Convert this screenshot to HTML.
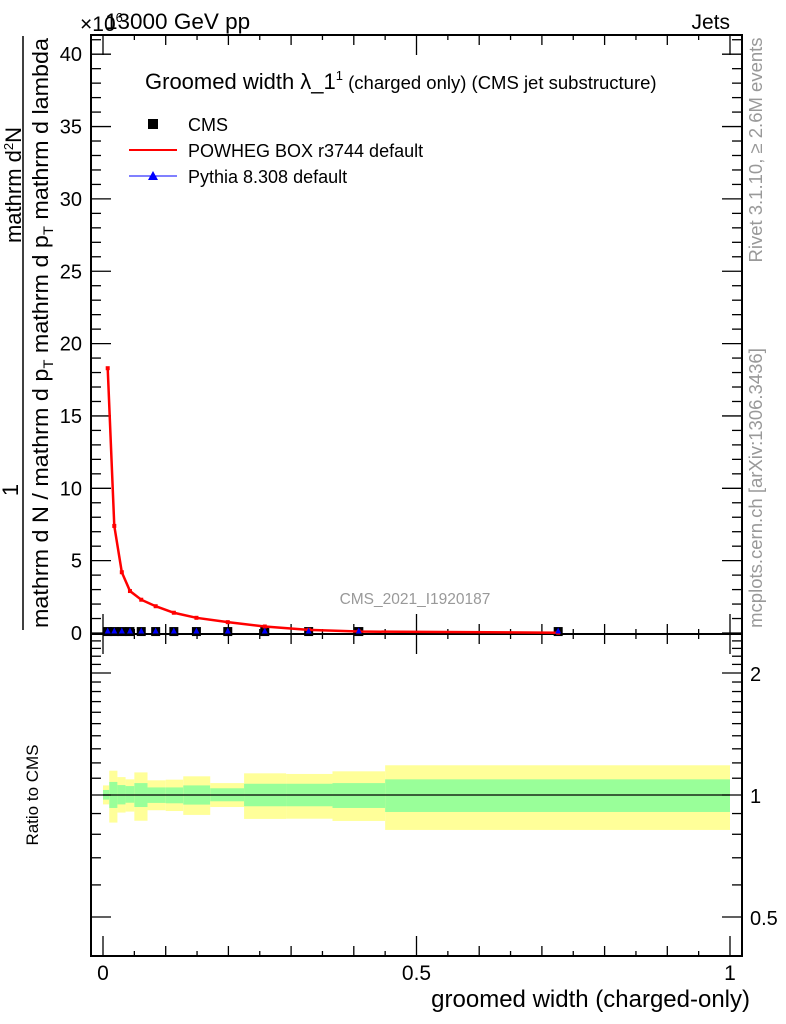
<!DOCTYPE html>
<html><head><meta charset="utf-8"><style>
html,body{margin:0;padding:0;background:#fff;}
svg{display:block;font-family:"Liberation Sans",Arial,sans-serif;}
</style></head><body>
<svg id="chart" width="786" height="1024" viewBox="0 0 786 1024" xmlns="http://www.w3.org/2000/svg">
<g id="ratio-bands"></g>
<g id="axes"></g>
<g id="series"></g>
<text x="105" y="29" font-size="22.5">13000 GeV pp</text>
<text x="80" y="31" font-size="21">×10<tspan font-size="13" dy="-9">6</tspan></text>
<text x="730" y="29" font-size="21" text-anchor="end">Jets</text>
<text x="145" y="89" font-size="22">Groomed width λ_1<tspan font-size="13" dy="-9">1</tspan><tspan font-size="18.5" dy="9"> (charged only) (CMS jet substructure)</tspan></text>
<g>
<rect x="148" y="119" width="10" height="10" fill="#000"/>
<text x="188" y="131" font-size="18">CMS</text>
<line x1="129" y1="150" x2="177" y2="150" stroke="#f00" stroke-width="2"/>
<text x="188" y="157" font-size="18">POWHEG BOX r3744 default</text>
<line x1="129" y1="176" x2="177" y2="176" stroke="#00f" stroke-width="1"/>
<polygon points="153,171 148,180 158,180" fill="#00f"/>
<text x="188" y="183" font-size="18">Pythia 8.308 default</text>
</g>
<text x="415" y="604" font-size="15.5" fill="#999" text-anchor="middle">CMS_2021_I1920187</text>
<text transform="translate(762,150) rotate(-90)" font-size="18.5" fill="#999" text-anchor="middle">Rivet 3.1.10, ≥ 2.6M events</text>
<text transform="translate(762,488) rotate(-90)" font-size="18.5" fill="#999" text-anchor="middle">mcplots.cern.ch [arXiv:1306.3436]</text>
<g>
<text transform="translate(21,185) rotate(-90)" font-size="22" text-anchor="middle">mathrm d<tspan font-size="13" dy="-8">2</tspan><tspan dy="8">N</tspan></text>
<text transform="translate(18,490) rotate(-90)" font-size="22" text-anchor="middle">1</text>
<line x1="23" y1="36" x2="23" y2="630" stroke="#000" stroke-width="1.5"/>
<text transform="translate(48,333) rotate(-90)" font-size="22" text-anchor="middle" textLength="590" lengthAdjust="spacingAndGlyphs">mathrm d N / mathrm d p<tspan font-size="14" dy="5">T</tspan><tspan dy="-5"> mathrm d p</tspan><tspan font-size="14" dy="5">T</tspan><tspan dy="-5"> mathrm d lambda</tspan></text>
</g>
<text transform="translate(38,795) rotate(-90)" font-size="17" text-anchor="middle">Ratio to CMS</text>
<text x="750" y="1007" font-size="24" text-anchor="end">groomed width (charged-only)</text>
</svg>
<script>
var binEdges=[0,0.01,0.023,0.036,0.05,0.071,0.1,0.128,0.171,0.225,0.292,0.366,0.45,1.0];
var pointX=[0.0075,0.018,0.030,0.043,0.061,0.084,0.113,0.149,0.199,0.258,0.328,0.408,0.726];
var powhegY=[18.3,7.4,4.2,2.9,2.3,1.85,1.4,1.05,0.75,0.45,0.22,0.1,0.02];
var cmsY=[0.1,0.1,0.1,0.1,0.1,0.1,0.1,0.1,0.1,0.1,0.1,0.1,0.1];
var pythiaY=[0.1,0.1,0.1,0.1,0.1,0.1,0.1,0.1,0.1,0.1,0.1,0.1,0.1];
var yellowHi=[1.056,1.148,1.107,1.093,1.137,1.087,1.091,1.112,1.07,1.131,1.127,1.144,1.184];
var yellowLo=[0.948,0.855,0.905,0.91,0.864,0.917,0.913,0.893,0.934,0.873,0.874,0.863,0.82];
var greenHi=[1.029,1.077,1.058,1.052,1.07,1.044,1.044,1.056,1.039,1.066,1.066,1.07,1.093];
var greenLo=[0.974,0.929,0.948,0.957,0.934,0.956,0.954,0.947,0.965,0.938,0.938,0.929,0.908];
var mainTicks=[0,5,10,15,20,25,30,35,40];
var ratioTicks=[0.5,1,2];
var xTicks=[0,0.5,1];

var NS="http://www.w3.org/2000/svg";
var L=91,R=742,T=35,MB=634,RB=956;
function xs(v){return 103+v*627;}
function ys(v){return 633-v*14.47;}
function yr(v){return 795-405.3*Math.log10(v);}
function mk(tag,attrs,parent){var e=document.createElementNS(NS,tag);for(var k in attrs)e.setAttribute(k,attrs[k]);parent.appendChild(e);return e;}
var ax=document.getElementById('axes'),se=document.getElementById('series'),bands=document.getElementById('ratio-bands');

for(var i=0;i<binEdges.length-1;i++){
 var x0=xs(binEdges[i]),x1=xs(binEdges[i+1]);
 var r1=mk('rect',{x:x0,y:yr(yellowHi[i]),width:x1-x0,height:yr(yellowLo[i])-yr(yellowHi[i]),fill:'#ffff99'},bands);
 
 
 var r2=mk('rect',{x:x0,y:yr(greenHi[i]),width:x1-x0,height:yr(greenLo[i])-yr(greenHi[i]),fill:'#99ff99'},bands);
 
 
}
var one=mk('line',{x1:xs(0),x2:xs(1),y1:yr(1),y2:yr(1),stroke:'#000','stroke-width':1.2},bands);



var f1=mk('rect',{x:L,y:T,width:R-L,height:MB-T,fill:'none',stroke:'#000','stroke-width':2},ax);


var f2=mk('rect',{x:L,y:MB,width:R-L,height:RB-MB,fill:'none',stroke:'#000','stroke-width':2},ax);



for(var v=0;v<=41;v++){
 var y=ys(v),len=(v%5==0)?20:10;
 mk('line',{x1:L,x2:L+len,y1:y,y2:y,stroke:'#000','stroke-width':1.3},ax);
 mk('line',{x1:R-len,x2:R,y1:y,y2:y,stroke:'#000','stroke-width':1.3},ax);
}
mainTicks.forEach(function(v){
 var t=mk('text',{x:82,y:ys(v)+7,'font-size':20,'text-anchor':'end'},ax);t.textContent=v;
 
 
});
[0.4,0.5,0.6,0.7,0.8,0.9,1,1.1,1.2,1.3,1.4,1.5,1.6,1.7,1.8,1.9,2,2.1,2.2,2.3,2.4].forEach(function(v){
 var y=yr(v),len=(v==0.5||v==1||v==2)?20:10;
 mk('line',{x1:L,x2:L+len,y1:y,y2:y,stroke:'#000','stroke-width':1.3},ax);
 mk('line',{x1:R-len,x2:R,y1:y,y2:y,stroke:'#000','stroke-width':1.3},ax);
});
ratioTicks.forEach(function(v){
 var t=mk('text',{x:750,y:yr(v)+8,'font-size':20},ax);t.textContent=v;
 
 
});
for(var k=0;k<=20;k++){
 var v=k*0.05,x=xs(v),len=(k%10==0)?20:(k%2==0?10:5);
 mk('line',{x1:x,x2:x,y1:MB,y2:MB-len,stroke:'#000','stroke-width':1.3},ax);
 mk('line',{x1:x,x2:x,y1:T,y2:T+len,stroke:'#000','stroke-width':1.3},ax);
 mk('line',{x1:x,x2:x,y1:RB,y2:RB-len,stroke:'#000','stroke-width':1.3},ax);
 mk('line',{x1:x,x2:x,y1:MB,y2:MB+len,stroke:'#000','stroke-width':1.3},ax);
}
xTicks.forEach(function(v){
 var t=mk('text',{x:xs(v),y:980,'font-size':21,'text-anchor':'middle'},ax);t.textContent=v;
 
 
});

pointX.forEach(function(v,i){
 var r=mk('rect',{x:xs(v)-4.5,y:ys(cmsY[i])-4.5,width:9,height:9,fill:'#000'},se);
 
 
});
var pts=pointX.map(function(v,i){return xs(v)+','+ys(powhegY[i]);}).join(' ');
var pl=mk('polyline',{points:pts,fill:'none',stroke:'#f00','stroke-width':2.5},se);


pointX.forEach(function(v,i){
 var r=mk('rect',{x:xs(v)-2,y:ys(powhegY[i])-2,width:4,height:4,fill:'#f00'},se);
 
 
});
pointX.forEach(function(v,i){
 var x=xs(v),y=ys(pythiaY[i]);
 var p=mk('polygon',{points:(x)+','+(y-4)+' '+(x-3)+','+(y+2)+' '+(x+3)+','+(y+2),fill:'#00f'},se);
 
 
});
</script>
</body></html>
